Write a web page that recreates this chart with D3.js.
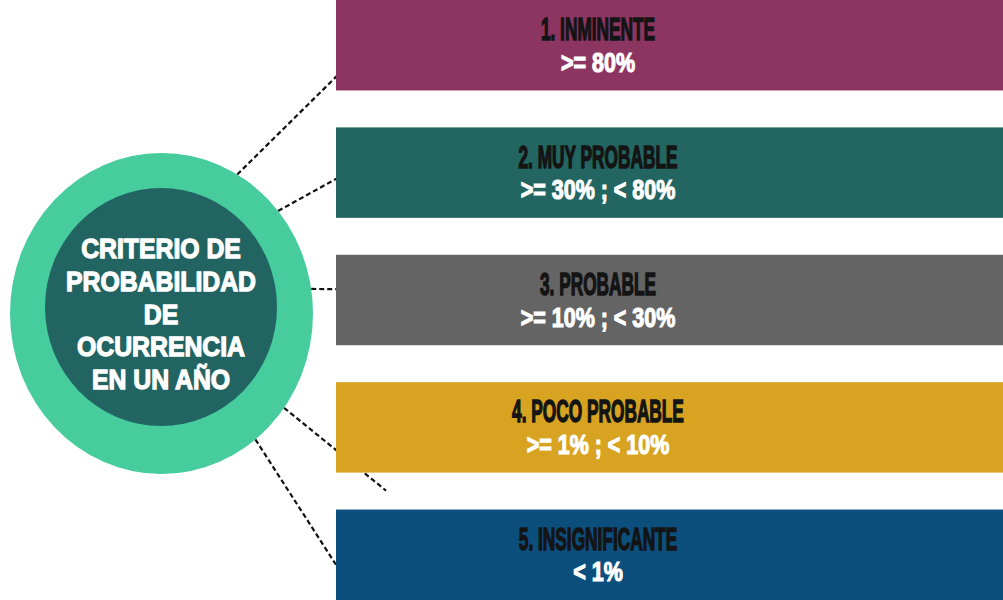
<!DOCTYPE html>
<html>
<head>
<meta charset="utf-8">
<script src="https://cdn.jsdelivr.net/npm/d3@7"></script>
<style>
  html, body { margin: 0; padding: 0; background: #ffffff; }
  svg { display: block; }
  text { font-family: "Liberation Sans", Arial, sans-serif; font-weight: bold; }
</style>
</head>
<body>
<div id="chart"></div>
<script>
// ---------- data ----------
const categories = ["1. INMINENTE", "2. MUY PROBABLE", "3. PROBABLE", "4. POCO PROBABLE", "5. INSIGNIFICANTE"];
const ranges = [">= 80%", ">= 30% ; < 80%", ">= 10% ; < 30%", ">= 1% ; < 10%", "< 1%"];
const centerTitle = ["CRITERIO DE", "PROBABILIDAD", "DE", "OCURRENCIA", "EN UN AÑO"];

// ---------- styles ----------
const barColors = ["#8d3561", "#236561", "#646464", "#d8a320", "#0c4f7c"];
const ringColor = "#46cc9d";
const coreColor = "#226462";

// ---------- layout ----------
const W = 1003, H = 600;
const barX = 336;
const labelX = 598;
const outer = { cx: 161.5, cy: 313.5, rx: 151.5, ry: 160.5 };
const inner = { cx: 161, cy: 307, rx: 116, ry: 119 };
const connectorAngles = [-60, -39.7, -8.8, 36, 51.7];   // degrees on the ring
const connectorEnd = [0.85, 0.57, 0.38, 0.75, 0.61];      // fraction down the bar

const svg = d3.select("#chart").append("svg")
  .attr("width", W).attr("height", H);

const y = d3.scaleBand()
  .domain(categories)
  .range([0, H])
  .paddingInner(0.29)
  .paddingOuter(0);

// connectors (drawn under bars)
const conn = svg.append("g").attr("class", "connectors");
categories.forEach((c, i) => {
  const a = connectorAngles[i] * Math.PI / 180;
  const x1 = outer.cx + outer.rx * Math.cos(a);
  const y1 = outer.cy + outer.ry * Math.sin(a);
  const x2 = barX;
  const y2 = y(c) + y.bandwidth() * connectorEnd[i];
  const ext = 50;
  const slope = (y2 - y1) / (x2 - x1);
  conn.append("line")
    .attr("x1", x1).attr("y1", y1)
    .attr("x2", x2 + ext).attr("y2", y2 + slope * ext)
    .attr("stroke", "#111")
    .attr("stroke-width", 2.2)
    .attr("stroke-dasharray", "5,3");
});

// bars
const rows = svg.append("g").selectAll("g.row")
  .data(categories)
  .join("g").attr("class", "row");

rows.append("rect")
  .attr("x", barX)
  .attr("y", d => y(d))
  .attr("width", W - barX)
  .attr("height", y.bandwidth())
  .attr("fill", (d, i) => barColors[i]);

rows.append("text")
  .attr("transform", d => `translate(${labelX},${y(d) + y.bandwidth() / 2 - 5}) scale(0.54,1)`)
  .attr("text-anchor", "middle")
  .attr("font-size", 32)
  .attr("fill", "#141414")
  .attr("stroke", "#141414")
  .attr("stroke-width", 1.5)
  .text(d => d);

rows.append("text")
  .attr("transform", d => `translate(${labelX},${y(d) + y.bandwidth() / 2 + 26.5}) scale(0.795,1)`)
  .attr("text-anchor", "middle")
  .attr("font-size", 27)
  .attr("fill", "#ffffff")
  .attr("stroke", "#ffffff")
  .attr("stroke-width", 1.2)
  .text((d, i) => ranges[i]);

// center badge
svg.append("ellipse")
  .attr("cx", outer.cx).attr("cy", outer.cy)
  .attr("rx", outer.rx).attr("ry", outer.ry)
  .attr("fill", ringColor);
svg.append("ellipse")
  .attr("cx", inner.cx).attr("cy", inner.cy)
  .attr("rx", inner.rx).attr("ry", inner.ry)
  .attr("fill", coreColor);

const lineStep = 32.8;
svg.append("g").selectAll("text")
  .data(centerTitle)
  .join("text")
  .attr("transform", (d, i) => `translate(161,${323.5 + (i - 2) * lineStep}) scale(0.87,1)`)
  .attr("text-anchor", "middle")
  .attr("font-size", 28.5)
  .attr("fill", "#ffffff")
  .attr("stroke", "#ffffff")
  .attr("stroke-width", 1.3)
  .text(d => d);
</script>
</body>
</html>
